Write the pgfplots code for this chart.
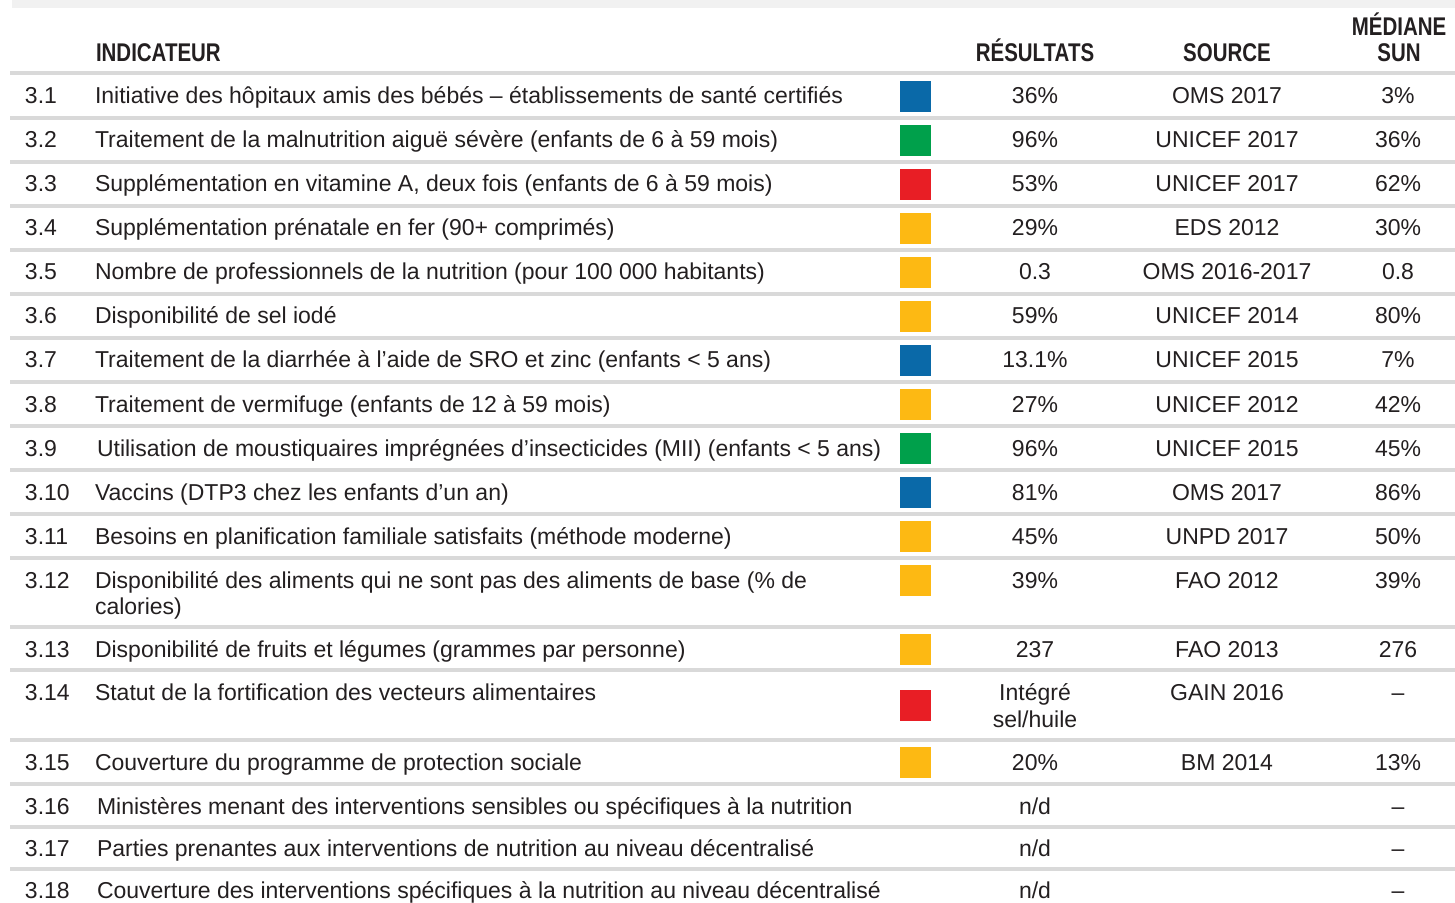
\documentclass[border=0pt]{standalone}
\usepackage{pgfplots}
\pgfplotsset{compat=1.18}
\usepackage{fontspec}
\setmainfont{Liberation Sans}
\newfontfamily\hdr{Liberation Sans}[FakeStretch=0.8]
\definecolor{cblue}{HTML}{0A69A8}
\definecolor{cgreen}{HTML}{00A04B}
\definecolor{cred}{HTML}{E81E25}
\definecolor{cyel}{HTML}{FDB913}
\definecolor{sep}{HTML}{D9D9D9}
\definecolor{band}{HTML}{F1F1F1}
\definecolor{txt}{HTML}{231F20}
\tikzset{tx/.style={font=\fontsize{11.5}{14}\selectfont, inner sep=0pt, outer sep=0pt, text=txt},
  hd/.style={font=\hdr\bfseries\fontsize{12.8}{14}\selectfont, inner sep=0pt, outer sep=0pt, text=txt}}
\newcommand{\row}[7][95]{%
 \node[tx, anchor=base west] at (axis cs:25,#2) {#3};
 \node[tx, anchor=base west] at (axis cs:#1,#2) {#4};
 \node[tx, anchor=base] at (axis cs:1035,#2) {#5};
 \node[tx, anchor=base] at (axis cs:1227,#2) {#6};
 \node[tx, anchor=base] at (axis cs:1398,#2) {#7};}
\newcommand{\sepl}[1]{\draw[sep, line width=2pt] (axis cs:10,#1) -- (axis cs:1455,#1);}
\begin{document}
\begin{tikzpicture}
\begin{axis}[x=0.5pt, y=0.5pt, xmin=0, xmax=1455, ymin=0, ymax=903, y dir=reverse,
  hide axis, scale only axis, clip=false]
\fill[band] (axis cs:12,0) rectangle (axis cs:1455,8);
% header
\node[hd, anchor=base west] at (axis cs:96,62) {INDICATEUR};
\node[hd, anchor=base] at (axis cs:1035,62) {RÉSULTATS};
\node[hd, anchor=base] at (axis cs:1227,62) {SOURCE};
\node[hd, anchor=base] at (axis cs:1399,36) {MÉDIANE};
\node[hd, anchor=base] at (axis cs:1399,62) {SUN};
% separators
\sepl{73}\sepl{118}\sepl{162}\sepl{206}\sepl{250}\sepl{294}\sepl{338}\sepl{382}\sepl{426}
\sepl{470}\sepl{514}\sepl{558}\sepl{627}\sepl{670}\sepl{740}\sepl{784}\sepl{827}\sepl{869}
% squares
\addplot[only marks, mark=square*, mark size=7.5pt, cblue] coordinates {(915,96) (915,360) (915,492)};
\addplot[only marks, mark=square*, mark size=7.5pt, cgreen] coordinates {(915,140) (915,448)};
\addplot[only marks, mark=square*, mark size=7.5pt, cred] coordinates {(915,184) (915,705)};
\addplot[only marks, mark=square*, mark size=7.5pt, cyel] coordinates {(915,228) (915,272) (915,316) (915,404) (915,536) (915,580) (915,649) (915,762)};
% rows
\row{104}{3.1}{Initiative des hôpitaux amis des bébés – établissements de santé certifiés}{36\%}{OMS 2017}{3\%}
\row{148}{3.2}{Traitement de la malnutrition aiguë sévère (enfants de 6 à 59 mois)}{96\%}{UNICEF 2017}{36\%}
\row{192}{3.3}{Supplémentation en vitamine A, deux fois (enfants de 6 à 59 mois)}{53\%}{UNICEF 2017}{62\%}
\row{236}{3.4}{Supplémentation prénatale en fer (90+ comprimés)}{29\%}{EDS 2012}{30\%}
\row{280}{3.5}{Nombre de professionnels de la nutrition (pour 100 000 habitants)}{0.3}{OMS 2016-2017}{0.8}
\row{324}{3.6}{Disponibilité de sel iodé}{59\%}{UNICEF 2014}{80\%}
\row{368}{3.7}{Traitement de la diarrhée à l’aide de SRO et zinc (enfants < 5 ans)}{13.1\%}{UNICEF 2015}{7\%}
\row{412}{3.8}{Traitement de vermifuge (enfants de 12 à 59 mois)}{27\%}{UNICEF 2012}{42\%}
\row[97]{456}{3.9}{Utilisation de moustiquaires imprégnées d’insecticides (MII) (enfants < 5 ans)}{96\%}{UNICEF 2015}{45\%}
\row{500}{3.10}{Vaccins (DTP3 chez les enfants d’un an)}{81\%}{OMS 2017}{86\%}
\row{544}{3.11}{Besoins en planification familiale satisfaits (méthode moderne)}{45\%}{UNPD 2017}{50\%}
\row{588}{3.12}{Disponibilité des aliments qui ne sont pas des aliments de base (\% de}{39\%}{FAO 2012}{39\%}
\node[tx, anchor=base west] at (axis cs:95,614) {calories)};
\row{657}{3.13}{Disponibilité de fruits et légumes (grammes par personne)}{237}{FAO 2013}{276}
\row{700}{3.14}{Statut de la fortification des vecteurs alimentaires}{Intégré}{GAIN 2016}{–}
\node[tx, anchor=base] at (axis cs:1035,727) {sel/huile};
\row{770}{3.15}{Couverture du programme de protection sociale}{20\%}{BM 2014}{13\%}
\row[97]{814}{3.16}{Ministères menant des interventions sensibles ou spécifiques à la nutrition}{n/d}{}{–}
\row[97]{856}{3.17}{Parties prenantes aux interventions de nutrition au niveau décentralisé}{n/d}{}{–}
\row[97]{898}{3.18}{Couverture des interventions spécifiques à la nutrition au niveau décentralisé}{n/d}{}{–}
\end{axis}
\pgfresetboundingbox
\path (current axis.south west) rectangle (current axis.north east);
\end{tikzpicture}
\end{document}
